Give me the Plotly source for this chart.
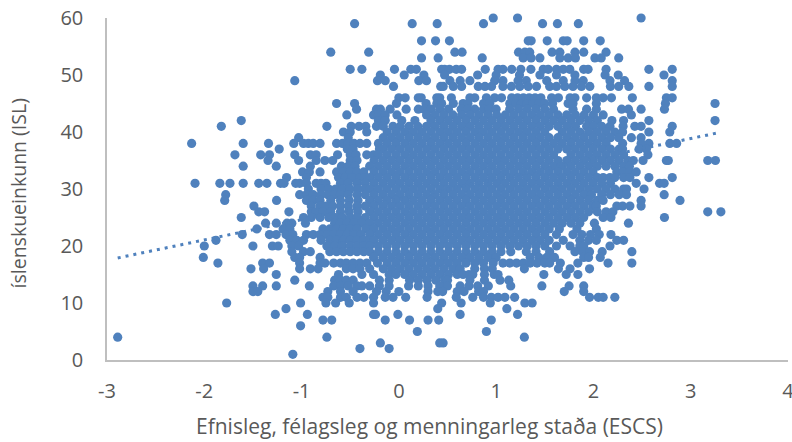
import plotly.graph_objects as go

r60 = [0.97, 1.22, 2.49]
r59 = [-0.455, 0.137, 0.394, 0.87, 1.477, 1.63, 1.845]
r56 = [0.233, 0.377, 0.52, 1.33, 1.36, 1.525, 1.69, 1.73, 1.90, 2.07]
r54 = [-0.70, -0.31, 0.576, 0.65, 1.23, 1.295, 1.345, 1.575, 1.655, 1.81, 1.90, 2.13]
r53 = [0.233, 0.404, 0.857, 1.278, 1.36, 1.45, 1.655, 1.74, 1.815, 2.015, 2.08, 2.26]
r51 = [-0.50, -0.38, -0.045, 0.123, 0.18, 0.44, 0.47, 0.52, 0.59, 0.645, 0.888, 1.02, 1.07, 1.16, 1.254, 1.357, 1.484, 1.535, 1.62, 1.69, 1.757, 1.90, 1.945, 2.13, 2.57, 2.81]
r50 = [-0.19, 0.055, 0.257, 0.47, 0.81, 1.0, 1.24, 1.45, 1.62, 1.81, 2.12, 2.255, 2.725]
r49 = [-1.07, -0.22, -0.14, 0.205, 0.284, 0.525, 0.63, 0.73, 0.985, 1.07, 1.225, 1.31, 1.52, 1.69, 1.81, 1.895, 2.17, 2.32, 2.81]
r48 = [-0.055, 0.43, 0.456, 0.56, 0.645, 0.816, 0.885, 0.953, 1.07, 1.157, 1.243, 1.33, 1.415, 1.55, 1.62, 1.706, 1.79, 1.877, 1.963, 2.175, 2.26, 2.364, 2.57, 2.81]
r46 = [0.0, 0.065, 0.2, 0.23, 0.39, 0.42, 0.54, 0.73, 0.78, 0.9, 0.985, 1.055, 1.16, 1.22, 1.28, 1.34, 1.4, 1.46, 1.57, 1.64, 1.76, 1.81, 1.93, 2.03, 2.1, 2.185, 2.4, 2.75, 2.81]
r45 = [-0.64, -0.455, -0.025, 0.28, 0.39, 0.44, 0.56, 0.66, 0.71, 0.87, 0.935, 1.14, 1.2, 1.26, 1.32, 1.38, 1.44, 1.5, 1.58, 1.74, 1.79, 2.03, 2.74, 3.25]
r44 = [-0.435, -0.23, -0.19, -0.09, 0.075, 0.2, 0.26, 0.33, 0.42, 0.51, 0.64, 0.71, 0.78, 0.87, 0.93, 1.0, 1.14, 1.23, 1.32, 1.41, 1.5, 1.59, 1.79, 1.93, 2.03, 2.29, 2.36, 2.49, 2.73]
r43 = [-0.535, -0.26, -0.21, -0.14, -0.02, 0.285, 0.375, 0.465, 0.555, 0.645, 0.735, 0.825, 0.915, 1.005, 1.095, 1.185, 1.275, 1.365, 1.455, 1.545, 1.635, 1.725, 1.815, 1.905, 2.0, 2.1, 2.39]
r42 = [-1.62, -0.21, -0.14, 0.03, 0.165, 0.33, 0.42, 0.51, 0.60, 0.69, 0.78, 0.87, 0.96, 1.05, 1.14, 1.23, 1.32, 1.41, 1.50, 1.59, 1.68, 1.77, 1.86, 1.95, 2.04, 2.19, 2.31, 2.57, 3.25]
r41 = [-1.825, -0.74, -0.49, -0.41, -0.34, -0.23, -0.16, -0.06, 0.015, 0.105, 0.195, 0.285, 0.375, 0.465, 0.555, 0.645, 0.735, 0.825, 0.915, 1.005, 1.095, 1.185, 1.275, 1.365, 1.455, 1.545, 1.635, 1.725, 1.815, 1.93, 2.0, 2.085, 2.17, 2.305, 2.425, 2.49, 2.81]
r40 = [-0.57, -0.50, -0.33, -0.12, -0.03, 0.06, 0.15, 0.24, 0.33, 0.42, 0.51, 0.60, 0.69, 0.78, 0.87, 0.96, 1.05, 1.14, 1.23, 1.32, 1.41, 1.50, 1.68, 1.77, 1.86, 1.95, 2.04, 2.13, 2.22, 2.3, 2.57, 2.785]
r39 = [-1.03, -0.52, -0.16, -0.075, 0.015, 0.105, 0.195, 0.285, 0.375, 0.465, 0.555, 0.645, 0.735, 0.825, 0.915, 1.005, 1.095, 1.185, 1.275, 1.365, 1.455, 1.545, 1.635, 1.725, 1.815, 1.905, 1.995, 2.085, 2.175, 2.26, 2.39, 2.49]
r38 = [-2.13, -1.6, -1.34, -1.08, -0.98, -0.93, -0.88, -0.81, -0.64, -0.58, -0.52, -0.46, -0.40, -0.33, -0.21, -0.12, -0.03, 0.06, 0.15, 0.24, 0.33, 0.42, 0.51, 0.60, 0.69, 0.78, 0.87, 0.96, 1.05, 1.14, 1.23, 1.32, 1.41, 1.50, 1.59, 1.68, 1.77, 1.86, 1.95, 2.04, 2.13, 2.3, 2.49, 2.57, 2.785, 2.855]
r37 = [-1.23, -0.53, -0.47, -0.2, -0.165, -0.075, 0.015, 0.105, 0.195, 0.285, 0.375, 0.465, 0.555, 0.645, 0.735, 0.825, 0.915, 1.005, 1.095, 1.185, 1.275, 1.365, 1.455, 1.545, 1.635, 1.725, 1.815, 1.905, 1.995, 2.085, 2.175, 2.265, 2.3, 2.47, 2.545]
r36 = [-1.685, -1.42, -1.33, -1.07, -0.91, -0.85, -0.63, -0.5, -0.44, -0.33, -0.26, -0.21, -0.12, -0.03, 0.06, 0.15, 0.24, 0.33, 0.42, 0.51, 0.60, 0.69, 0.78, 0.87, 0.96, 1.05, 1.14, 1.23, 1.32, 1.41, 1.50, 1.59, 1.77, 1.86, 1.95, 2.04, 2.13, 2.22, 2.31, 2.56]
r35 = [-1.345, -1.03, -0.85, -0.76, -0.68, -0.5, -0.43, -0.255, -0.165, -0.075, 0.015, 0.105, 0.195, 0.285, 0.375, 0.465, 0.555, 0.645, 0.735, 0.825, 0.915, 1.005, 1.095, 1.185, 1.275, 1.365, 1.455, 1.545, 1.635, 1.725, 1.815, 1.905, 1.995, 2.085, 2.175, 2.265, 2.355, 2.41, 2.51, 2.75, 2.77, 3.175, 3.254]
r34 = [-1.6, -1.26, -0.91, -0.59, -0.52, -0.45, -0.3, -0.21, -0.12, -0.03, 0.06, 0.15, 0.24, 0.33, 0.42, 0.51, 0.60, 0.69, 0.78, 0.87, 0.96, 1.05, 1.14, 1.23, 1.32, 1.41, 1.50, 1.59, 1.68, 1.77, 1.86, 1.95, 2.04, 2.13, 2.22, 2.31, 2.37]
r33 = [-0.99, -0.92, -0.81, -0.64, -0.57, -0.5, -0.43, -0.36, -0.255, -0.165, -0.075, 0.015, 0.105, 0.195, 0.285, 0.375, 0.465, 0.555, 0.645, 0.735, 0.825, 0.915, 1.005, 1.095, 1.185, 1.275, 1.365, 1.455, 1.545, 1.635, 1.725, 1.815, 1.905, 1.995, 2.24, 2.3, 2.375, 2.44]
r32 = [-1.154, -0.95, -0.62, -0.55, -0.48, -0.4, -0.35, -0.3, -0.21, -0.12, -0.03, 0.06, 0.15, 0.24, 0.33, 0.42, 0.51, 0.60, 0.69, 0.78, 0.87, 0.96, 1.05, 1.14, 1.23, 1.32, 1.41, 1.50, 1.59, 1.68, 1.77, 1.86, 1.95, 2.04, 2.1, 2.17, 2.22, 2.31, 2.375, 2.57, 2.81]
r31 = [-2.095, -1.84, -1.736, -1.6, -1.44, -1.356, -1.216, -1.18, -1.06, -1.02, -0.95, -0.85, -0.8, -0.75, -0.6, -0.52, -0.43, -0.345, -0.255, -0.165, -0.075, 0.015, 0.105, 0.195, 0.285, 0.375, 0.465, 0.555, 0.645, 0.735, 0.825, 0.915, 1.005, 1.095, 1.185, 1.275, 1.365, 1.455, 1.545, 1.635, 1.725, 1.815, 1.905, 1.995, 2.085, 2.175, 2.44, 2.68, 2.727]
r30 = [-0.93, -0.8, -0.72, -0.65, -0.58, -0.5, -0.42, -0.35, -0.30, -0.21, -0.12, -0.03, 0.06, 0.15, 0.24, 0.33, 0.42, 0.51, 0.60, 0.69, 0.78, 0.87, 0.96, 1.05, 1.14, 1.23, 1.32, 1.41, 1.50, 1.59, 1.68, 1.77, 1.86, 1.95, 2.04, 2.13, 2.22, 2.31, 2.34, 2.52]
r29 = [-1.78, -1.02, -0.95, -0.88, -0.8, -0.73, -0.66, -0.6, -0.52, -0.43, -0.345, -0.255, -0.165, -0.075, 0.015, 0.105, 0.195, 0.285, 0.375, 0.465, 0.555, 0.645, 0.735, 0.825, 0.915, 1.005, 1.095, 1.185, 1.275, 1.365, 1.455, 1.545, 1.635, 1.725, 1.815, 1.905, 1.98, 2.085, 2.175, 2.265, 2.34, 2.727]
r28 = [-1.79, -1.257, -0.95, -0.88, -0.81, -0.7, -0.6, -0.51, -0.42, -0.30, -0.21, -0.12, -0.03, 0.06, 0.15, 0.24, 0.33, 0.42, 0.51, 0.60, 0.69, 0.78, 0.87, 0.96, 1.05, 1.14, 1.23, 1.32, 1.41, 1.50, 1.59, 1.68, 1.77, 1.86, 1.95, 2.04, 2.1, 2.49, 2.89]
r27 = [-1.49, -0.9, -0.81, -0.75, -0.68, -0.6, -0.52, -0.43, -0.345, -0.255, -0.165, -0.075, 0.015, 0.105, 0.195, 0.285, 0.375, 0.465, 0.555, 0.645, 0.735, 0.825, 0.915, 1.005, 1.095, 1.185, 1.275, 1.365, 1.455, 1.545, 1.635, 1.725, 1.815, 1.905, 1.995, 2.03, 2.24, 2.3, 2.375, 2.49]
r26 = [-1.44, -1.38, -1.13, -0.9, -0.85, -0.78, -0.7, -0.6, -0.51, -0.42, -0.30, -0.21, -0.12, -0.03, 0.06, 0.15, 0.24, 0.33, 0.42, 0.51, 0.60, 0.69, 0.78, 0.87, 0.96, 1.05, 1.14, 1.23, 1.32, 1.41, 1.50, 1.59, 1.68, 1.77, 1.86, 1.95, 2.04, 2.13, 2.2, 3.175, 3.31]
r25 = [-1.62, -0.98, -0.9, -0.81, -0.72, -0.65, -0.58, -0.5, -0.43, -0.345, -0.255, -0.165, -0.075, 0.015, 0.105, 0.195, 0.285, 0.375, 0.465, 0.555, 0.645, 0.735, 0.825, 0.915, 1.005, 1.095, 1.185, 1.275, 1.365, 1.455, 1.545, 1.635, 1.725, 1.815, 1.9, 2.1, 2.18, 2.73]
r24 = [-1.37, -1.26, -1.15, -1.1, -0.96, -0.66, -0.6, -0.53, -0.46, -0.38, -0.30, -0.21, -0.12, -0.03, 0.06, 0.15, 0.24, 0.33, 0.42, 0.51, 0.60, 0.69, 0.78, 0.87, 0.96, 1.05, 1.14, 1.23, 1.32, 1.41, 1.50, 1.59, 1.68, 1.77, 1.86, 2.01, 2.36]
r23 = [-1.46, -1.19, -1.12, -0.78, -0.71, -0.64, -0.57, -0.5, -0.43, -0.34, -0.255, -0.165, -0.075, 0.015, 0.105, 0.195, 0.285, 0.375, 0.465, 0.555, 0.645, 0.735, 0.825, 0.915, 1.005, 1.095, 1.185, 1.275, 1.365, 1.455, 1.545, 1.65, 1.83, 2.03]
r22 = [-1.61, -1.33, -1.26, -1.16, -1.09, -0.95, -0.88, -0.81, -0.74, -0.67, -0.6, -0.53, -0.46, -0.39, -0.30, -0.21, -0.12, -0.03, 0.06, 0.15, 0.24, 0.33, 0.42, 0.51, 0.60, 0.69, 0.78, 0.87, 0.96, 1.05, 1.14, 1.23, 1.32, 1.41, 1.50, 1.62, 1.79, 1.88, 1.97, 2.06, 2.18]
r21 = [-1.88, -1.12, -1.05, -0.98, -0.8, -0.71, -0.64, -0.57, -0.5, -0.43, -0.36, -0.3, -0.255, -0.165, -0.075, 0.015, 0.105, 0.195, 0.285, 0.375, 0.465, 0.555, 0.645, 0.735, 0.825, 0.915, 1.005, 1.095, 1.185, 1.275, 1.365, 1.455, 1.545, 1.69, 1.86, 1.95, 2.03, 2.24, 2.31]
r20 = [-2.0, -1.5, -1.3, -1.24, -1.1, -1.03, -0.74, -0.66, -0.58, -0.5, -0.43, -0.36, -0.30, -0.21, -0.12, -0.03, 0.06, 0.15, 0.24, 0.33, 0.42, 0.51, 0.60, 0.69, 0.78, 0.87, 0.96, 1.05, 1.14, 1.23, 1.32, 1.41, 1.50, 1.62, 1.76, 1.86, 1.9, 2.17]
r19 = [-1.1, -0.98, -0.91, -0.71, -0.64, -0.57, -0.5, -0.43, -0.36, -0.3, -0.21, -0.12, -0.03, 0.06, 0.15, 0.24, 0.33, 0.42, 0.51, 0.60, 0.69, 0.78, 0.87, 0.96, 1.05, 1.15, 1.31, 1.41, 1.55, 1.81, 1.89, 1.96, 2.09, 2.395]
r18 = [-2.01, -1.07, -1.02, -0.81, -0.26, -0.165, -0.075, 0.015, 0.105, 0.195, 0.285, 0.375, 0.465, 0.555, 0.645, 0.735, 0.825, 0.915, 1.0, 1.35, 1.44, 1.52, 1.6, 1.9, 1.95, 2.07]
r17 = [-1.86, -1.40, -1.33, -1.02, -0.81, -0.76, -0.67, -0.6, -0.54, -0.47, -0.4, -0.33, -0.22, -0.12, -0.03, 0.06, 0.15, 0.24, 0.33, 0.42, 0.51, 0.60, 0.69, 0.78, 0.87, 0.97, 1.07, 1.14, 1.21, 1.28, 1.35, 1.42, 1.5, 1.55, 1.66, 1.84, 2.15, 2.395]
r16 = [-1.52, -1.39, -1.02, -0.91, -0.83, -0.54, -0.47, -0.4, -0.3, -0.16, -0.075, 0.015, 0.105, 0.195, 0.285, 0.375, 0.465, 0.555, 0.63, 0.78, 0.88, 0.96, 1.29, 1.64, 1.76, 1.96]
r15 = [-1.26, -0.62, -0.38, -0.26, -0.1, -0.03, 0.06, 0.15, 0.24, 0.33, 0.42, 0.51, 0.60, 0.66, 0.72, 0.76, 0.88, 0.98, 1.02, 1.49, 1.72, 1.84]
r14 = [-1.07, -0.66, -0.6, -0.54, -0.47, -0.2, -0.1, 0.11, 0.2, 0.29, 0.38, 0.47, 0.5, 0.73, 0.88, 1.04, 1.13]
r13 = [-1.5, -1.4, -1.26, -0.92, -0.67, -0.6, -0.52, -0.43, -0.38, -0.3, -0.2, -0.1, 0.1, 0.2, 0.3, 0.42, 0.5, 0.63, 0.72, 0.81, 0.92, 1.15, 1.47, 1.75, 1.9]
r12 = [-1.5, -1.45, -0.73, -0.6, -0.47, -0.23, -0.13, 0.0, 0.3, 0.4, 0.45, 0.6, 0.67, 0.82, 0.87, 1.7, 1.9]
r11 = [-0.78, -0.73, -0.6, -0.54, -0.43, -0.36, -0.26, -0.14, -0.06, 0.07, 0.29, 0.59, 0.76, 0.87, 0.95, 1.02, 1.09, 1.19, 1.96, 2.05, 2.1, 2.22]
r10 = [-1.77, -1.01, -0.75, -0.65, -0.51, -0.26, 0.44, 0.64, 0.94, 1.295, 1.37]
r9 = [-1.16, 0.4, 1.11]
r8 = [-1.27, -0.94, -0.26, -0.24, -0.01, 0.63, 1.22]
r7 = [-0.78, -0.69, -0.14, 0.11, 0.3, 0.41, 0.95]
r6 = [-1.01]
r5 = [0.19, 0.9]
r4 = [-2.89, -0.74, 1.29]
r3 = [-0.19, 0.42, 0.455]
r2 = [-0.4, -0.1]
r1 = [-1.09]

scores = [60, 59, 56, 54, 53, 51, 50, 49, 48, 46, 45, 44, 43, 42, 41, 40, 39, 38, 37, 36, 35, 34, 33, 32, 31, 30, 29, 28, 27, 26, 25, 24, 23, 22, 21, 20, 19, 18, 17, 16, 15, 14, 13, 12, 11, 10, 9, 8, 7, 6, 5, 4, 3, 2, 1]
rows = [r60, r59, r56, r54, r53, r51, r50, r49, r48, r46, r45, r44, r43, r42, r41, r40, r39, r38, r37, r36, r35, r34, r33, r32, r31, r30, r29, r28, r27, r26, r25, r24, r23, r22, r21, r20, r19, r18, r17, r16, r15, r14, r13, r12, r11, r10, r9, r8, r7, r6, r5, r4, r3, r2, r1]

x_ticks = [-3, -2, -1, 0, 1, 2, 3, 4]
x_tick_labels = ["-3", "-2", "-1", "0", "1", "2", "3", "4"]
y_ticks = [0, 10, 20, 30, 40, 50, 60]

trend_x = [-2.89, 3.265]
trend_y = [17.9, 39.8]

xs, ys = [], []
for s, row in zip(scores, rows):
    xs += row
    ys += [s] * len(row)

BLUE = "#4F81BD"
GREY = "#595959"
FONT = "Open Sans"
fig = go.Figure()
fig.add_trace(go.Scatter(x=xs, y=ys, mode="markers", cliponaxis=False,
                         marker=dict(color=BLUE, size=9.2, line=dict(width=0))))
fig.add_trace(go.Scatter(x=trend_x, y=trend_y, mode="lines", cliponaxis=False,
                         line=dict(color=BLUE, width=3, dash="3px,5px")))
fig.update_layout(
    width=792, height=442, showlegend=False,
    margin=dict(l=107, r=4, t=18, b=82),
    paper_bgcolor="white", plot_bgcolor="white",
    font=dict(family=FONT, color=GREY),
    xaxis=dict(range=[-3, 4], tickmode="array", tickvals=x_ticks, ticktext=x_tick_labels,
               showgrid=False, zeroline=False,
               showline=True, linecolor="#BFBFBF", linewidth=1.5, ticks="",
               ticklabelstandoff=12, ticklabeloverflow="allow",
               tickfont=dict(size=20, color=GREY), automargin=False),
    yaxis=dict(range=[0, 60], tickmode="array", tickvals=y_ticks,
               showgrid=False, zeroline=False,
               showline=True, linecolor="#BFBFBF", linewidth=1.5, ticks="",
               ticklabelstandoff=18,
               tickfont=dict(size=20, color=GREY), automargin=False),
    annotations=[
        dict(text="Efnisleg, félagsleg og menningarleg staða (ESCS)", xref="paper", yref="paper",
             x=0.4743, y=-0.193, xanchor="center", yanchor="middle", showarrow=False,
             font=dict(size=21, color=GREY, family=FONT)),
        dict(text="íslenskueinkunn (ISL)", xref="paper", yref="paper", textangle=-90,
             x=-0.1307, y=0.487, xanchor="center", yanchor="middle", showarrow=False,
             font=dict(size=19.5, color=GREY, family=FONT)),
    ],
)
fig.write_html("out.html", post_script="document.body.style.margin='0';",
               config=dict(displayModeBar=False))
